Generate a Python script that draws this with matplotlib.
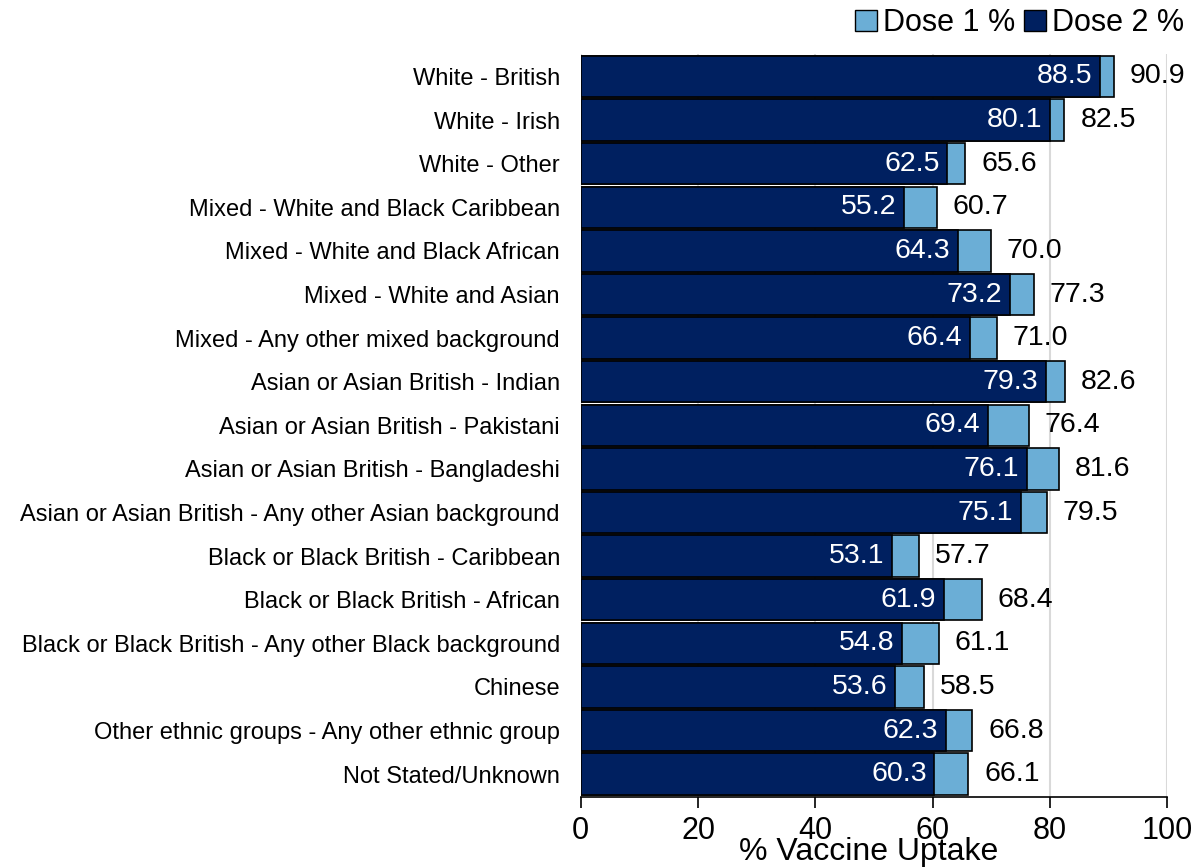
import matplotlib.pyplot as plt
from matplotlib.patches import Patch

plt.rcParams['font.family'] = ['Liberation Sans', 'DejaVu Sans']

groups = [
    'White - British',
    'White - Irish',
    'White - Other',
    'Mixed - White and Black Caribbean',
    'Mixed - White and Black African',
    'Mixed - White and Asian',
    'Mixed - Any other mixed background',
    'Asian or Asian British - Indian',
    'Asian or Asian British - Pakistani',
    'Asian or Asian British - Bangladeshi',
    'Asian or Asian British - Any other Asian background',
    'Black or Black British - Caribbean',
    'Black or Black British - African',
    'Black or Black British - Any other Black background',
    'Chinese',
    'Other ethnic groups - Any other ethnic group',
    'Not Stated/Unknown',
]
dose1 = [90.9, 82.5, 65.6, 60.7, 70.0, 77.3, 71.0, 82.6, 76.4, 81.6, 79.5, 57.7, 68.4, 61.1, 58.5, 66.8, 66.1]
dose2 = [88.5, 80.1, 62.5, 55.2, 64.3, 73.2, 66.4, 79.3, 69.4, 76.1, 75.1, 53.1, 61.9, 54.8, 53.6, 62.3, 60.3]

c1 = '#6baed6'
c2 = '#002060'

fig = plt.figure(figsize=(11.95, 8.68), dpi=100)
ax = fig.add_axes([0.486, 0.082, 0.4906, 0.856])

y = list(range(len(groups)))
h = 0.95
ax.barh(y, dose1, height=h, color=c1, edgecolor='black', linewidth=1.2, zorder=2)
ax.barh(y, dose2, height=h, color=c2, edgecolor='black', linewidth=1.2, zorder=3)

for i in y:
    ax.text(dose2[i] - 1.3, i, f'{dose2[i]:.1f}', ha='right', va='center',
            color='white', fontsize=20.5, zorder=4)
    ax.text(dose1[i] + 2.7, i, f'{dose1[i]:.1f}', ha='left', va='center',
            color='black', fontsize=20.5, zorder=4)

ax.set_ylim(len(groups) - 0.5 + 0.02, -0.5 - 0.02)
ax.set_yticks(y)
ax.set_yticklabels(groups, fontsize=17)
ax.tick_params(axis='y', length=0, pad=15)

ax.set_xlim(0, 100)
ax.set_xticks([0, 20, 40, 60, 80, 100])
ax.tick_params(axis='x', labelsize=22, length=8, direction='out', width=1.2, pad=6)
ax.grid(axis='x', color='#d9d9d9', linewidth=1.5, zorder=0)
ax.set_axisbelow(True)

for s in ['top', 'right', 'left']:
    ax.spines[s].set_visible(False)
ax.spines['bottom'].set_linewidth(1.2)

# axis title sits low, partly over the tick labels as in the original
fig.text(0.727, 0.001, '% Vaccine Uptake', ha='center', va='bottom', fontsize=23)

handles = [Patch(facecolor=c1, edgecolor='black', label='Dose 1 %'),
           Patch(facecolor=c2, edgecolor='black', label='Dose 2 %')]
fig.legend(handles=handles, loc='upper right', bbox_to_anchor=(1.006, 1.012), ncol=2,
           frameon=False, fontsize=22, handlelength=0.7, handleheight=0.7,
           handletextpad=0.2, columnspacing=0.3, borderaxespad=0.2)

fig.savefig('out.png', dpi=100)
